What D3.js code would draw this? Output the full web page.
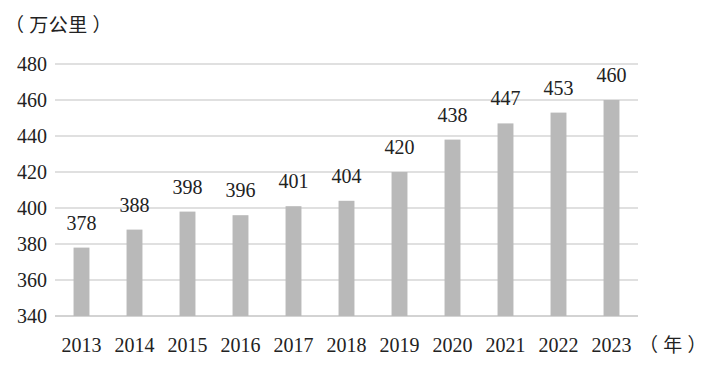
<!DOCTYPE html>
<html><head><meta charset="utf-8">
<script src="https://cdn.jsdelivr.net/npm/d3@7"></script>
<style>body{margin:0;background:#fff}</style>
</head><body>
<svg id="c" width="725" height="378"></svg>
<script>
const years = ["2013","2014","2015","2016","2017","2018","2019","2020","2021","2022","2023"];
const values = [378,388,398,396,401,404,420,438,447,453,460];
const yTicks = [340,360,380,400,420,440,460,480];

const svg = d3.select("#c");
const serif = "'Liberation Serif','Times New Roman',serif";
const cjk = "'Noto Sans CJK SC',sans-serif";
const x = d3.scaleBand().domain(years).range([55, 638]).paddingInner(0.7).paddingOuter(0.35);
const y = d3.scaleLinear().domain([340, 480]).range([316, 64]);

// gridlines
svg.append("g").selectAll("line").data(yTicks).join("line")
  .attr("x1", 55).attr("x2", 638)
  .attr("y1", d => y(d)).attr("y2", d => y(d))
  .attr("stroke", d => d === 340 ? "#c4c4c4" : "#d6d6d6").attr("stroke-width", 1.3);

// y axis labels
const ya = svg.append("g").attr("transform", "translate(47,0)")
  .call(d3.axisLeft(y).tickValues(yTicks).tickSize(0).tickPadding(0));
ya.select(".domain").remove();
ya.selectAll("text").attr("font-family", serif).attr("font-size", 20).attr("fill", "#222");

// bars
svg.append("g").selectAll("rect").data(values).join("rect")
  .attr("x", (d, i) => x(years[i])).attr("width", x.bandwidth())
  .attr("y", d => y(d)).attr("height", d => y(340) - y(d))
  .attr("fill", "#b9b9b9");

// value labels
svg.append("g").selectAll("text").data(values).join("text")
  .attr("x", (d, i) => x(years[i]) + x.bandwidth() / 2)
  .attr("y", d => y(d) - 18)
  .attr("text-anchor", "middle").attr("font-family", serif).attr("font-size", 20).attr("fill", "#222")
  .text(d => d);

// x axis labels
const xa = svg.append("g").attr("transform", "translate(0,338)")
  .call(d3.axisBottom(x).tickSize(0).tickPadding(0));
xa.select(".domain").remove();
xa.selectAll("text").attr("font-family", serif).attr("font-size", 20).attr("fill", "#222").attr("dy", "0.7em");

// unit labels
svg.append("text").attr("x", 5).attr("y", 32).attr("font-family", cjk).attr("font-size", 19).attr("letter-spacing", 0.5).attr("fill", "#222").text("（ 万公里 ）");
svg.append("text").attr("x", 639).attr("y", 352).attr("font-family", cjk).attr("font-size", 19).attr("letter-spacing", 0.5).attr("fill", "#222").text("（ 年 ）");
</script>
</body></html>
